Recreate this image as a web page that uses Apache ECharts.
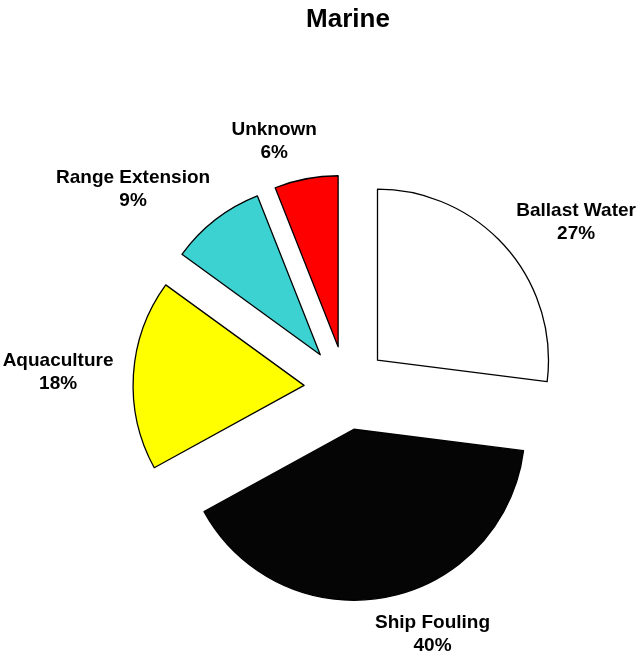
<!DOCTYPE html>
<html>
<head>
<meta charset="utf-8">
<script src="https://cdn.jsdelivr.net/npm/echarts@6/dist/echarts.min.js"></script>
<style>
  html, body { margin: 0; padding: 0; background: #ffffff; }
  #chart { width: 639px; height: 657px; }
</style>
</head>
<body>
<div id="chart"></div>
<script>
// Sources of marine introductions (percent of records)
const categories = ['Ballast Water', 'Ship Fouling', 'Aquaculture', 'Range Extension', 'Unknown'];
const shares = [27, 40, 18, 9, 6];
const sliceColors = ['#ffffff', '#050505', '#ffff00', '#3cd2d2', '#ff0000'];

const chart = echarts.init(document.getElementById('chart'), null, { renderer: 'canvas' });

// Every slice is pulled out from the centre ("exploded" pie)
const pieData = categories.map((name, i) => ({
  name: name,
  value: shares[i],
  selected: true,
  itemStyle: { color: sliceColors[i] }
}));

const labelFont = {
  fontFamily: 'Liberation Sans, Arial, sans-serif',
  fontSize: 19,
  fontWeight: 'bold',
  lineHeight: 23,
  color: '#000000',
  align: 'center'
};

chart.setOption({
  animation: false,
  backgroundColor: '#ffffff',
  title: {
    text: 'Marine',
    left: 343,
    textAlign: 'center',
    top: 2,
    textStyle: {
      fontFamily: 'Liberation Sans, Arial, sans-serif',
      fontSize: 26,
      fontWeight: 'bold',
      color: '#000000'
    }
  },
  series: [{
    type: 'pie',
    center: [346, 388],
    radius: 171,
    startAngle: 90,
    clockwise: true,
    avoidLabelOverlap: false,
    selectedMode: 'multiple',
    selectedOffset: 42,
    emphasis: { disabled: true },
    itemStyle: { borderColor: '#000000', borderWidth: 1.3 },
    label: {
      show: true,
      position: 'outside',
      // name above, percentage below, both centred in the label block
      formatter: p => '{c|' + p.name + '}\n{c|' + p.value + '%}',
      rich: { c: labelFont },
      fontFamily: 'Liberation Sans, Arial, sans-serif',
      fontSize: 19,
      fontWeight: 'bold',
      lineHeight: 23,
      color: '#000000',
      overflow: 'none',
      distanceToLabelLine: -18
    },
    labelLine: { show: false, length: 38, length2: 0 },
    labelLayout: { hideOverlap: false },
    data: pieData
  }]
});
</script>
</body>
</html>
